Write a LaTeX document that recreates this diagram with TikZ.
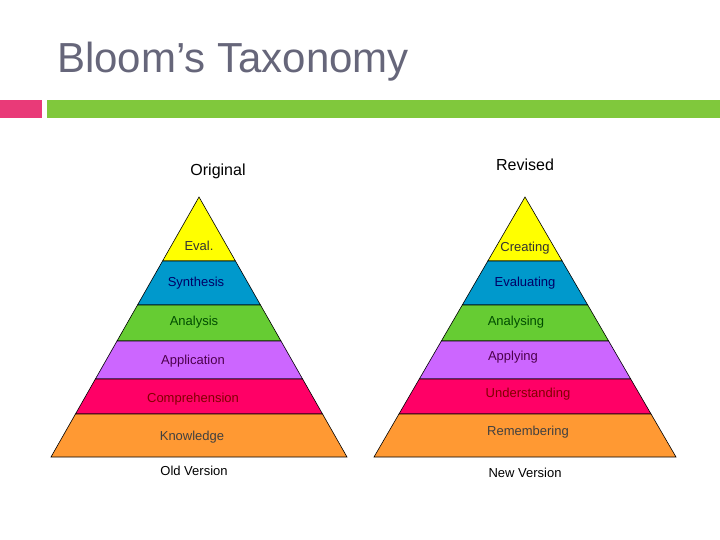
\documentclass[tikz,border=0pt]{standalone}
\usepackage{fontspec}
\setmainfont{Liberation Sans}
\begin{document}
\begin{tikzpicture}[x=1pt,y=-1pt,
  band/.style={draw=black,line width=0.6pt},
  lbl/.style={font=\fontsize{13}{15}\selectfont},
  captext/.style={font=\fontsize{16}{18}\selectfont}]
\useasboundingbox (0,0) rectangle (720,540);
\fill[white] (0,0) rectangle (720,540);
\node[anchor=base west,text=black!60!blue!20!gray,font=\fontsize{42}{46}\selectfont,inner sep=0] (title) at (57,73) {Bloom’s Taxonomy};
\fill[color={rgb,255:red,233;green,58;blue,120}] (0,100) rectangle (42,118);
\fill[color={rgb,255:red,128;green,200;blue,60}] (47,100) rectangle (720,118);
\definecolor{cY}{RGB}{255,255,0}
\definecolor{cB}{RGB}{0,153,204}
\definecolor{cG}{RGB}{102,204,51}
\definecolor{cP}{RGB}{204,102,255}
\definecolor{cR}{RGB}{255,0,102}
\definecolor{cO}{RGB}{255,153,51}
\foreach \cx/\w [count=\p] in {199/148,525/151}{
  \foreach \ya/\yb/\c in {197/261/cY,261/305/cB,305/341/cG,341/379/cP,379/414/cR,414/457/cO}{
    \pgfmathsetmacro\wa{\w/260*(\ya-197)}
    \pgfmathsetmacro\wb{\w/260*(\yb-197)}
    \filldraw[band,fill=\c] (\cx-\wa,\ya) -- (\cx+\wa,\ya) -- (\cx+\wb,\yb) -- (\cx-\wb,\yb) -- cycle;
  }
}
\node[lbl,text=black!80] (e1) at (199,246) {Eval.};
\node[lbl,text=blue!40!black] (s1) at (196,283) {Synthesis};
\node[lbl,text=green!30!black] (a1) at (194,322) {Analysis};
\node[lbl,text=violet!60!black] (p1) at (193,361) {Application};
\node[lbl,text=red!50!black] (c1) at (193,399) {Comprehension};
\node[lbl,text=black!75] (k1) at (192,437) {Knowledge};
\node[lbl,text=black!80] (e2) at (525,248) {Creating};
\node[lbl,text=blue!40!black] (s2) at (525,283) {Evaluating};
\node[lbl,text=green!30!black] (a2) at (516,322) {Analysing};
\node[lbl,text=violet!60!black] (p2) at (513,357) {Applying};
\node[lbl,text=red!50!black] (c2) at (528,394) {Understanding};
\node[lbl,text=black!75] (k2) at (528,432) {Remembering};
\node[captext] (o) at (218,171) {Original};
\node[captext] (r) at (525,165) {Revised};
\node[lbl] (ov) at (194,471) {Old Version};
\node[lbl] (nv) at (525,473) {New Version};
\end{tikzpicture}
\end{document}
